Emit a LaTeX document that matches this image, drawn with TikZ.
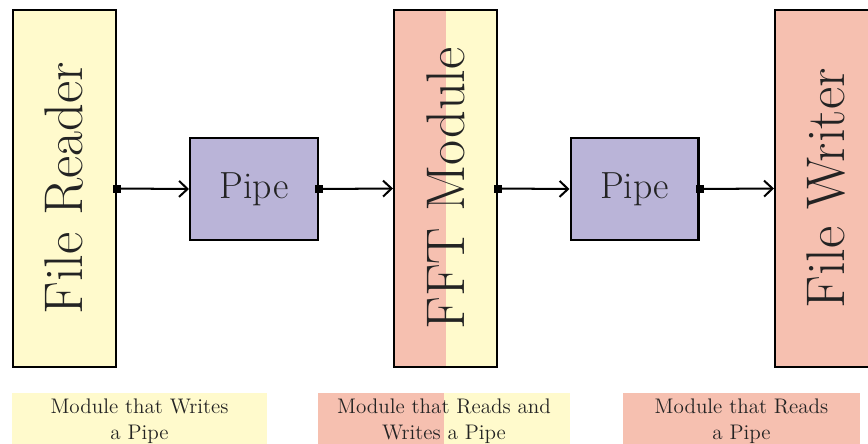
\documentclass[tikz,border=0pt]{standalone}
\usetikzlibrary{arrows.meta}

\definecolor{writecol}{RGB}{255,250,204}
\definecolor{readcol}{RGB}{246,192,176}
\definecolor{pipecol}{RGB}{186,180,216}
\definecolor{txtcol}{RGB}{35,35,35}

\tikzset{
  module/.style={draw, line width=1.15pt, minimum width=2.06cm, minimum height=7.14cm,
    inner sep=0pt, text=txtcol, font=\fontsize{31}{32}\selectfont},
  pipe/.style={draw, fill=pipecol, line width=1.15pt, minimum width=2.56cm, minimum height=2.04cm,
    inner sep=0pt, text=txtcol, font=\fontsize{21.5}{22}\selectfont},
  port/.style={fill=black, inner sep=0pt, minimum size=0.16cm},
  flow/.style={-{Straight Barb[length=1.7mm,width=3.2mm]}, line width=1.15pt},
  caption/.style={minimum height=1.12cm, inner sep=0pt, align=center, text=txtcol,
    font=\fontsize{12}{14.8}\selectfont},
  halfsplit/.style={path picture={\fill[readcol] (path picture bounding box.south west)
    rectangle (path picture bounding box.north);}}
}

\begin{document}
\begin{tikzpicture}[x=0.02cm, y=-0.02cm]
            \useasboundingbox (0,0) rectangle (868,443);
            \clip (0,0) rectangle (868,443);

            % modules and pipes
            \node [module, fill=writecol] (reader) at (64.5,188.5) {\rotatebox{90}{File Reader}};
            \node [pipe] (pipeA) at (254,189) {Pipe};
            \node [module, fill=writecol, halfsplit] (fft) at (445.5,188.5) {\rotatebox{90}{FFT Module}};
            \node [pipe] (pipeB) at (634.5,189) {Pipe};
            \node [module, fill=readcol] (writer) at (826.5,188.5) {\rotatebox{90}{File Writer}};

            \node [port] (readerOut) at (reader.east) {};
            \node [port] (pipeAOut) at (pipeA.east) {};
            \node [port] (fftOut) at (fft.east) {};
            \node [port] (pipeBOut) at (pipeB.east) {};

            \draw[flow] (readerOut.center) -- (pipeA.west);
            \draw[flow] (pipeAOut.center) -- (fft.west);
            \draw[flow] (fftOut.center) -- (pipeB.west);
            \draw[flow] (pipeBOut.center) -- (writer.west);

            % captions
            \node [caption, fill=writecol, minimum width=5.1cm] (capA) at (139.5,421) {Module that Writes\\a Pipe};
            \node [caption, fill=writecol, halfsplit, minimum width=5.04cm] (capB) at (444,421) {Module that Reads and\\Writes a Pipe};
            \node [caption, fill=readcol, minimum width=4.74cm] (capC) at (741.5,421) {Module that Reads\\a Pipe};
\end{tikzpicture}
\end{document}
